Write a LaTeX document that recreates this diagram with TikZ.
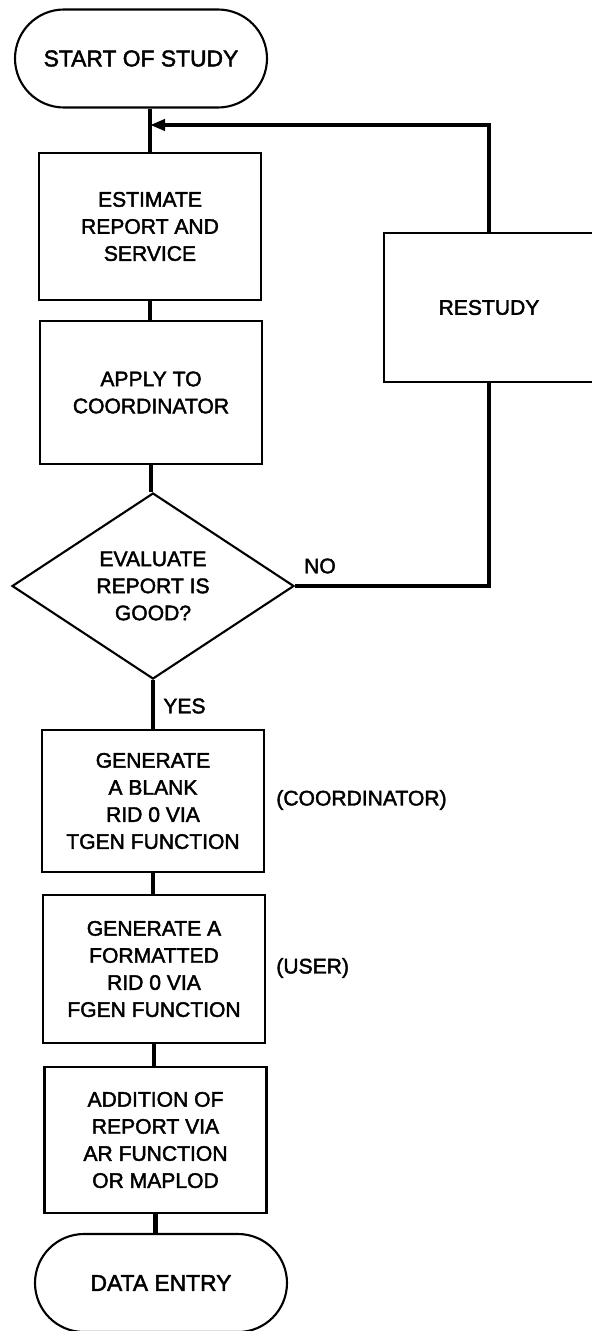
\documentclass[tikz,border=0pt]{standalone}
\usepackage{fontspec}
\setmainfont{Liberation Sans}[FakeBold=2]
\usetikzlibrary{shapes.misc,shapes.geometric}
\usetikzlibrary{arrows.meta}

\newcommand{\flowfont}{\fontsize{12}{15.4}\selectfont}
\newcommand{\termfont}{\fontsize{13}{15.4}\selectfont}

\begin{document}
\begin{tikzpicture}[
  stepbox/.style={draw,line width=1.2pt,minimum width=4.44cm,align=center,inner sep=0pt,font=\flowfont},
  terminal/.style={draw,rounded rectangle,line width=1.2pt,minimum width=5.04cm,minimum height=1.96cm,inner sep=0pt,font=\termfont},
  decision/.style={draw,diamond,line width=1.2pt,minimum width=5.64cm,minimum height=3.72cm,inner sep=0pt,align=center,font=\flowfont},
  flow/.style={line width=2.3pt},
  note/.style={inner sep=0pt,font=\flowfont}
]
\useasboundingbox (0,0) rectangle (11.82,-26.62);

    % main column
    \node[terminal] (start) at (2.82,-1.17) {START OF STUDY};
    \node[stepbox,minimum height=2.94cm] (est) at (3.0,-4.53) {ESTIMATE\\REPORT AND\\SERVICE};
    \node[stepbox,minimum height=2.86cm] (app) at (3.02,-7.85) {APPLY TO\\COORDINATOR};
    \node[decision] (dec) at (3.06,-11.72) {EVALUATE\\REPORT IS\\GOOD?};
    \node[stepbox,minimum height=2.84cm] (tgen) at (3.06,-16.02) {GENERATE\\A BLANK\\RID 0 VIA\\TGEN FUNCTION};
    \node[stepbox,minimum height=2.96cm] (fgen) at (3.08,-19.38) {GENERATE A\\FORMATTED\\RID 0 VIA\\FGEN FUNCTION};
    \node[stepbox,minimum height=2.92cm] (add) at (3.11,-22.8) {ADDITION OF\\REPORT VIA\\AR FUNCTION\\OR MAPLOD};
    \node[terminal] (stop) at (3.22,-25.66) {DATA ENTRY};

    % restudy branch
    \node[stepbox,minimum width=4.2cm,minimum height=2.98cm] (rest) at (9.78,-6.15) {RESTUDY};
    \coordinate (join) at (3.0,-2.5);

    % connectors down the column
    \draw[flow] (start.south -| est.north) -- (est.north);
    \foreach \a/\b in {est/app,app/dec,dec/tgen,tgen/fgen,fgen/add,add/stop}
        \draw[flow] (\a.south) -- (\a.south |- \b.north);

    % loop back
    \draw[flow] (dec.east) -| (rest.south);
    \draw[flow,-{Triangle[length=0.3cm,width=0.22cm]}] (rest.north) |- (join);

    % labels
    \node[note] (no) at (6.4,-11.32) {NO};
    \node[note,anchor=west] (yes) at (3.26,-14.12) {YES};
    \node[note,anchor=west] (coord) at (5.52,-16.0) {(COORDINATOR)};
    \node[note,anchor=west] (user) at (5.52,-19.36) {(USER)};
\end{tikzpicture}
\end{document}
